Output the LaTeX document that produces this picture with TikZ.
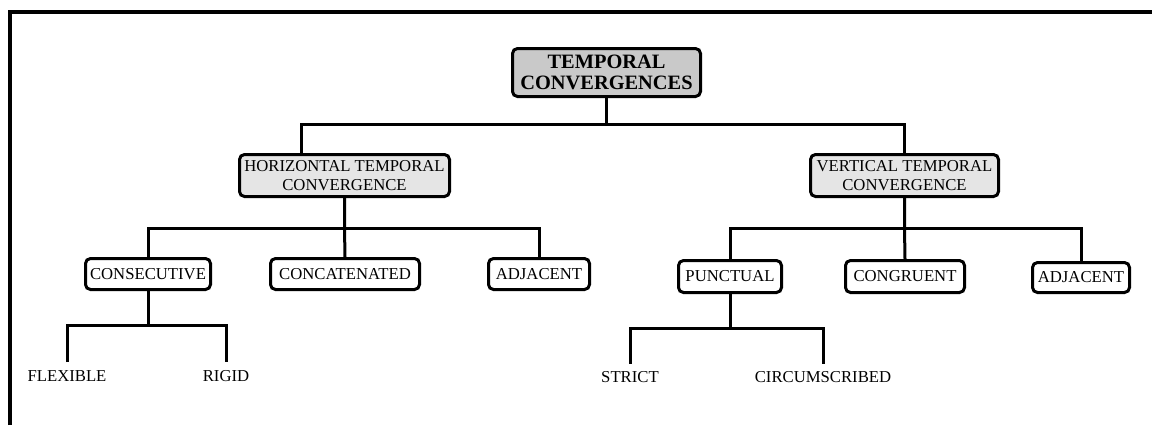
\documentclass[tikz,border=0pt]{standalone}
\usepackage{fontspec}
\setmainfont{Liberation Serif}
\usetikzlibrary{calc}

\definecolor{rootgray}{gray}{0.79}
\definecolor{midgray}{gray}{0.9}

\tikzset{
  conn/.style={line width=1.5pt},
  cbox/.style={draw, line width=1.5pt, rounded corners=2.5pt, inner sep=0pt, align=center,
    font=\fontsize{8.35pt}{9.65pt}\selectfont},
  rootbox/.style={cbox, fill=rootgray, minimum width=94pt, minimum height=24pt,
    font=\bfseries\fontsize{10.2pt}{10.5pt}\selectfont},
  midbox/.style={cbox, fill=midgray, minimum height=21pt},
  leafbox/.style={cbox, fill=white, minimum height=15.5pt},
  leaf/.style={inner sep=4pt, font=\fontsize{8.35pt}{9.65pt}\selectfont}
}

\begin{document}
\begin{tikzpicture}[x=0.5pt,y=-0.5pt]
 \useasboundingbox (0,0) rectangle (1152,425);

    % draw frame
    \draw[line width=2pt] (9.5,425) |- (1152,11.5);

    % draw boxes
    \node[rootbox] (root) at (606.5,72.5) {TEMPORAL\\CONVERGENCES};

    \node[midbox, minimum width=105pt] (horz) at (344.5,175.5) {HORIZONTAL TEMPORAL\\CONVERGENCE};
    \node[midbox, minimum width=94pt] (vert) at (904.5,175.5) {VERTICAL TEMPORAL\\CONVERGENCE};

    \node[leafbox, minimum width=62.5pt] (cons) at (148,274) {CONSECUTIVE};
    \node[leafbox, minimum width=74.5pt] (conc) at (345,274) {CONCATENATED};
    \node[leafbox, minimum width=50.5pt] (adjl) at (539,274) {ADJACENT};
    \node[leafbox, minimum width=51.5pt, minimum height=16pt] (punc) at (730,276.5) {PUNCTUAL};
    \node[leafbox, minimum width=59.5pt, minimum height=16pt] (cong) at (905,276.5) {CONGRUENT};
    \node[leafbox, minimum width=48.5pt, minimum height=15pt] (adjr) at (1081,277.5) {ADJACENT};

    \node[leaf] (flex) at (67,376) {FLEXIBLE};
    \node[leaf] (rigid) at (226,376) {RIGID};
    \node[leaf] (strict) at (630,377.5) {STRICT};
    \node[leaf] (circ) at (823,377.5) {CIRCUMSCRIBED};

    % draw tree lines
    \coordinate (rootfork) at (root.south |- 0,124);
    \draw[conn] (root.south) -- (rootfork);
    \draw[conn] ($(horz.north west)!0.3!(horz.north east)$) |- (rootfork) -| (vert.north);

    \coordinate (hfork) at (horz.south |- 0,228);
    \draw[conn] (horz.south) -- (hfork) -- (conc.north);
    \draw[conn] (cons.north) |- (hfork) -| (adjl.north);

    \coordinate (vfork) at (vert.south |- 0,228);
    \draw[conn] (vert.south) -- (vfork) -- (cong.north);
    \draw[conn] (punc.north) |- (vfork) -| (adjr.north);

    \coordinate (cfork) at (cons.south |- 0,325);
    \draw[conn] (cons.south) -- (cfork);
    \draw[conn] (flex.north) |- (cfork) -| (rigid.north);

    \coordinate (pfork) at (punc.south |- 0,328);
    \draw[conn] (punc.south) -- (pfork);
    \draw[conn] (strict.north) |- (pfork) -| (circ.north);

\end{tikzpicture}
\end{document}
